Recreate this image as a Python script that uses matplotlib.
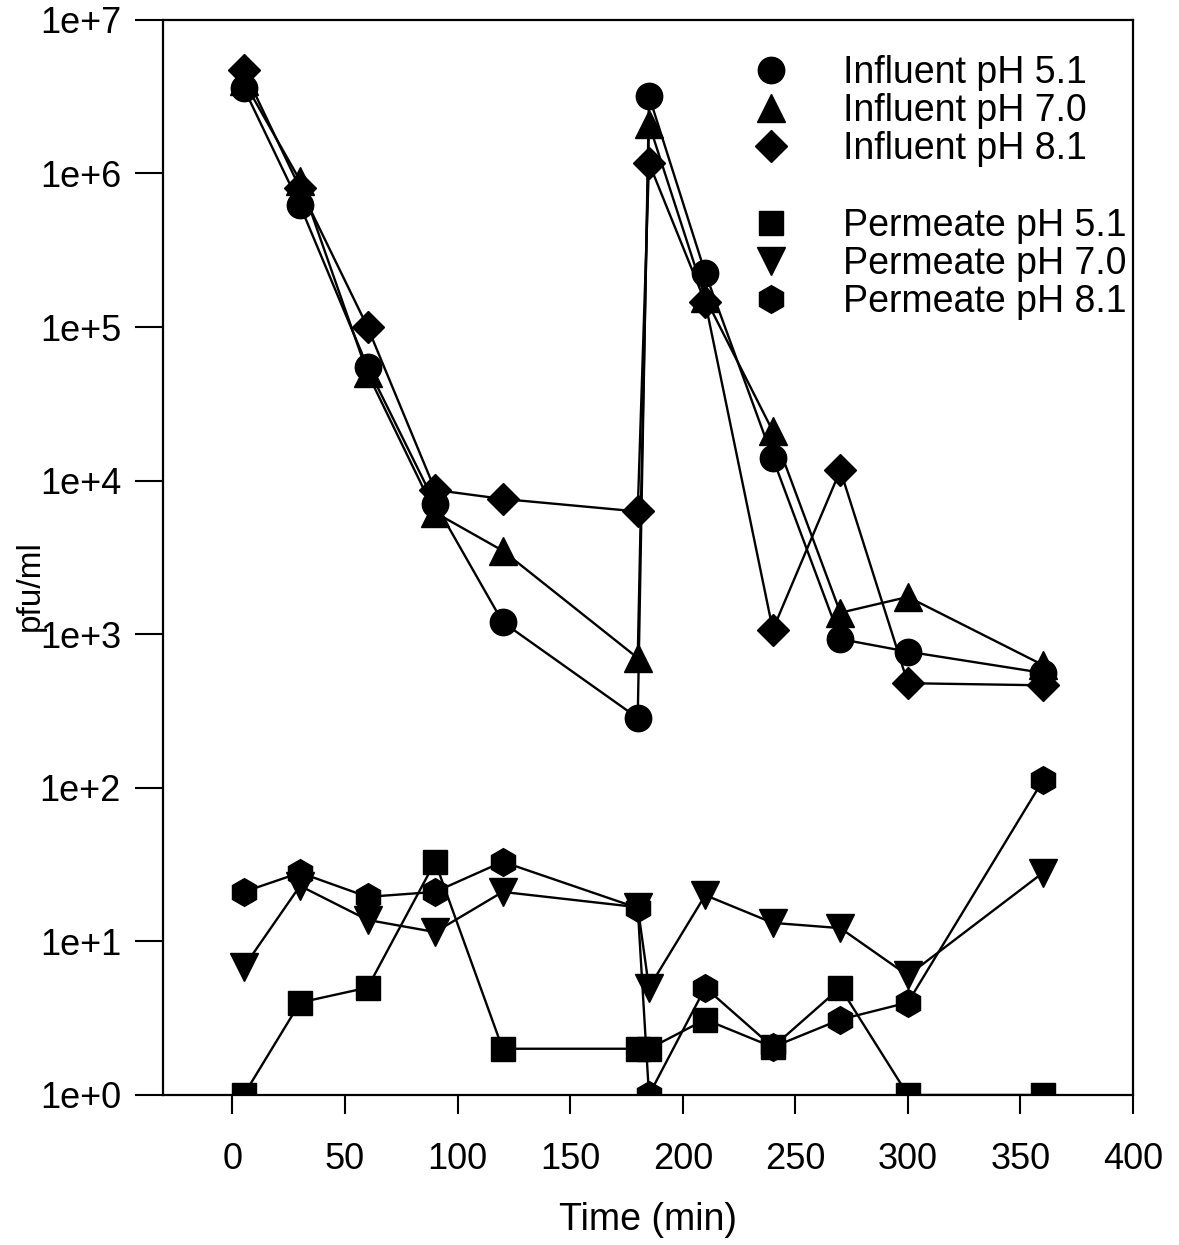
import numpy as np
import matplotlib
matplotlib.use('Agg')
import matplotlib.pyplot as plt
from matplotlib.lines import Line2D
from matplotlib.ticker import FixedLocator, FuncFormatter, NullLocator

plt.rcParams['font.family'] = ['Liberation Sans', 'DejaVu Sans']

time_min = [5, 30, 60, 90, 120, 180, 185, 210, 240, 270, 300, 360]

influent_51 = [3.6e6, 6.2e5, 5.5e4, 7.1e3, 1.2e3, 285, 3.2e6, 2.25e5, 1.4e4, 930, 770, 560]
influent_70 = [4.0e6, 9.0e5, 5.0e4, 6.2e3, 3.5e3, 700, 2.1e6, 1.55e5, 2.1e4, 1.38e3, 1.75e3, 630]
influent_81 = [4.7e6, 8.0e5, 1.0e5, 8.7e3, 7.6e3, 6.3e3, 1.17e6, 1.45e5, 1.07e3, 1.17e4, 480, 465]

permeate_51 = [1, 4, 5, 33, 2, 2, 2, 3.1, 2.05, 5, 1, 1]
permeate_70 = [6.8, 23, 13.8, 11.5, 21, 16.7, 5.0, 20, 13.2, 12.2, 6.0, 28]
permeate_81 = [21, 28, 19.5, 21, 33, 16.5, 1.0, 5.0, 2.05, 3.1, 4.0, 112]

labels = ['Influent pH 5.1', 'Influent pH 7.0', 'Influent pH 8.1',
          'Permeate pH 5.1', 'Permeate pH 7.0', 'Permeate pH 8.1']
series = [influent_51, influent_70, influent_81, permeate_51, permeate_70, permeate_81]
markers = ['o', '^', 'D', 's', 'v', 'h']
msizes = [19, 20, 16, 17, 20, 20]

fig = plt.figure(figsize=(11.79, 12.45), dpi=100)
ax = fig.add_axes([0.138, 0.1205, 0.823, 0.8635])

handles = []
for vals, m, ms, lab in zip(series, markers, msizes, labels):
    ax.plot(time_min, vals, color='black', lw=1.7, marker=m, ms=ms,
            markerfacecolor='black', markeredgecolor='black')
    handles.append(Line2D([], [], ls='None', marker=m, ms=ms, color='black'))

ax.set_yscale('log')
ax.set_ylim(1, 1e7)
ax.set_xlim(-31, 400)

ax.yaxis.set_major_locator(FixedLocator([10.0 ** k for k in range(8)]))
ax.yaxis.set_minor_locator(NullLocator())
ax.yaxis.set_major_formatter(FuncFormatter(lambda v, p: '1e+%d' % int(round(np.log10(v)))))
ax.set_xticks(np.arange(0, 401, 50))

ax.tick_params(axis='y', direction='out', length=20, width=1.5, pad=10, labelsize=26)
ax.tick_params(axis='x', direction='out', length=14, width=1.5, pad=20, labelsize=26)
for s in ax.spines.values():
    s.set_linewidth(1.6)

ax.set_xlabel('Time (min)', fontsize=27, labelpad=18)
ax.set_ylabel('pfu/ml', fontsize=24)
ax.yaxis.set_label_coords(-0.12, 0.474)

blank = Line2D([], [], ls='None', marker='None')
leg_handles = handles[:3] + [blank] + handles[3:]
leg_labels = labels[:3] + [''] + labels[3:]
ax.legend(leg_handles, leg_labels, loc='upper right', bbox_to_anchor=(1.02, 0.992),
          frameon=False, fontsize=27, labelspacing=0.06, handlelength=1.0,
          handletextpad=1.4, borderaxespad=0.3)

fig.savefig('out.png', dpi=100)
